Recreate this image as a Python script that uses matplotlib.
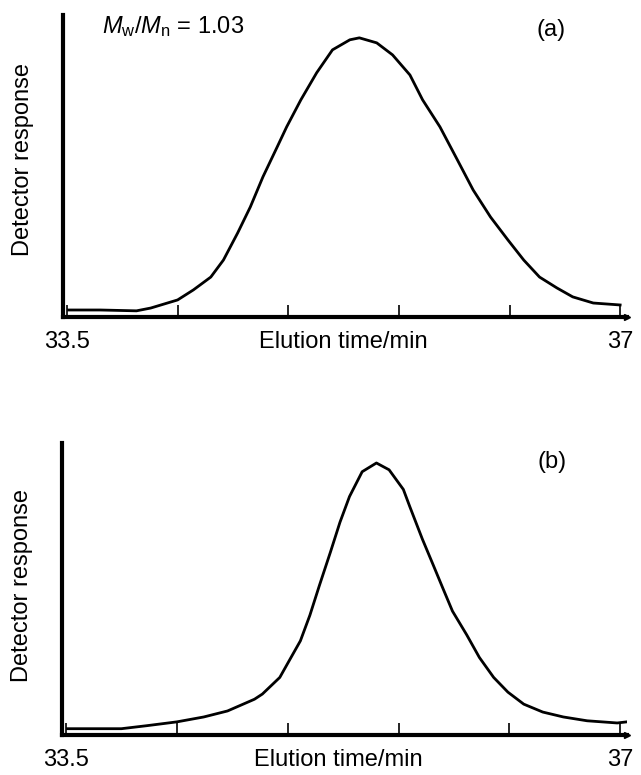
import matplotlib
matplotlib.use('Agg')
import matplotlib.pyplot as plt

plt.rcParams['font.family'] = ['Liberation Sans', 'DejaVu Sans']
plt.rcParams['mathtext.fontset'] = 'custom'
plt.rcParams['mathtext.rm'] = 'Liberation Sans'
plt.rcParams['mathtext.it'] = 'Liberation Sans:italic'

# panel (a): elution time (min) vs detector response (arbitrary, peak = 100)
time_a = [33.51, 33.71, 33.94, 34.03, 34.20, 34.30, 34.41, 34.49, 34.58, 34.66, 34.74,
          34.83, 34.89, 34.98, 35.08, 35.18, 35.29, 35.35, 35.46, 35.56, 35.67, 35.75,
          35.86, 35.97, 36.07, 36.18, 36.29, 36.39, 36.49, 36.60, 36.70, 36.83, 37.00]
resp_a = [2.5, 2.5, 2.2, 3.2, 6.1, 9.7, 14.3, 20.4, 30.1, 39.4, 50.2,
          60.9, 68.1, 77.8, 87.5, 95.7, 99.3, 100.0, 98.2, 93.9, 86.7, 77.8,
          68.1, 56.3, 45.5, 35.8, 27.6, 20.4, 14.3, 10.4, 7.2, 5.0, 4.3]

# panel (b)
time_b = [33.51, 33.85, 34.01, 34.20, 34.37, 34.52, 34.69, 34.74, 34.85, 34.91, 34.98,
          35.04, 35.10, 35.17, 35.23, 35.29, 35.37, 35.46, 35.54, 35.63, 35.67, 35.75,
          35.82, 35.88, 35.94, 36.03, 36.11, 36.20, 36.29, 36.39, 36.51, 36.64, 36.79,
          36.98, 37.04]
resp_b = [2.2, 2.2, 3.3, 4.7, 6.5, 8.7, 13.0, 14.9, 21.0, 27.2, 34.4,
          43.8, 54.7, 67.0, 77.9, 87.3, 96.4, 99.6, 97.1, 89.9, 83.7, 71.7,
          62.0, 53.6, 45.3, 36.6, 28.3, 21.0, 15.6, 11.2, 8.3, 6.5, 5.1,
          4.3, 4.7]

ticks = [33.5, 34.2, 34.9, 35.6, 36.3, 37.0]
tick_labels = ['33.5', '', '', '', '', '37']

fig = plt.figure(figsize=(6.41, 7.75), dpi=100)
ax_a = fig.add_axes([0.0983, 0.591, 0.880, 0.3897])
ax_b = fig.add_axes([0.0967, 0.052, 0.882, 0.3763])

pad = 10
panels = [(ax_a, time_a, resp_a, 108.2, 35.25, 0.523, '(a)', 36.56, 102.9),
          (ax_b, time_b, resp_b, 106.9, 35.22, 0.512, '(b)', 36.57, 100.0)]

for ax, t, r, ytop, xlab_x, ylab_y, tag, tag_x, tag_y in panels:
    ax.plot(t, r, color='black', lw=2.0, solid_joinstyle='round')
    ax.set_xlim(33.475, 37.044)
    ax.set_ylim(0, ytop)
    ax.spines['top'].set_visible(False)
    ax.spines['right'].set_visible(False)
    ax.spines['left'].set_linewidth(3.0)
    ax.spines['bottom'].set_linewidth(3.0)
    ax.set_yticks([])
    ax.set_xticks(ticks)
    ax.set_xticklabels(tick_labels, fontsize=17)
    ax.tick_params(axis='x', direction='in', length=9, width=1.2, pad=pad)
    ax.plot(1, 0, '>', color='black', ms=5, transform=ax.transAxes, clip_on=False)
    ax.set_ylabel('Detector response', fontsize=17, va='center')
    ax.yaxis.set_label_coords(-0.071, ylab_y)
    ax.annotate('Elution time/min', xy=(xlab_x, 0), xycoords=('data', 'axes fraction'),
                xytext=(0, -pad), textcoords='offset points', fontsize=17,
                ha='center', va='top')
    ax.text(tag_x, tag_y, tag, fontsize=17, ha='center', va='center')

ax_a.text(33.72, 104.0, r'$M_\mathrm{w}/M_\mathrm{n}$ = 1.03', fontsize=17,
          ha='left', va='center')

fig.savefig('out.png', dpi=100)
